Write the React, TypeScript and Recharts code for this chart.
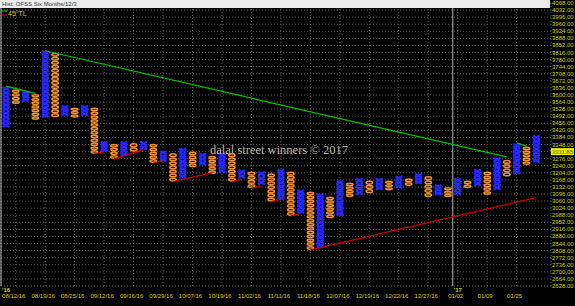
import React from "react";
import {
  ComposedChart,
  Bar,
  Line,
  XAxis,
  YAxis,
  CartesianGrid,
  ReferenceLine,
} from "recharts";

// point & figure columns, even index = X (blue), odd = O (orange)
const BOX = 20;
const highs = [
  3642, 3629, 3617, 3605, 3825, 3815, 3546, 3536, 3546, 3536,
  3363, 3351, 3363, 3356, 3363, 3351, 3315, 3304, 3329, 3312,
  3304, 3290, 3304, 3304, 3219, 3210, 3210, 3202, 3222, 3210,
  3117, 3108, 3097, 3083, 3164, 3154, 3176, 3164, 3176, 3164,
  3187, 3176, 3198, 3187, 3143, 3131, 3176, 3164, 3222, 3210,
  3283, 3270, 3351, 3337, 3395,
];
const lows = [
  3436, 3554, 3566, 3473, 3487, 3487, 3495, 3485, 3495, 3300,
  3312, 3275, 3290, 3311, 3321, 3254, 3261, 3159, 3176, 3232,
  3244, 3198, 3205, 3159, 3176, 3126, 3143, 3058, 3066, 2985,
  2999, 2812, 2826, 2973, 2985, 3080, 3092, 3100, 3117, 3114,
  3126, 3137, 3148, 3080, 3092, 3080, 3092, 3126, 3137, 3092,
  3117, 3185, 3198, 3244, 3256,
];

const dateLabels = [
  "08/12/16", "08/19/16", "08/25/16", "09/12/16", "09/16/16", "09/29/16",
  "10/07/16", "10/19/16", "11/02/16", "11/11/16", "11/18/16", "12/07/16",
  "12/19/16", "12/22/16", "12/27/16", "01/02", "01/09", "01/25",
];
const labelCols = [1, 4, 7, 10, 13, 16, 19, 22, 25, 28, 31, 34, 37, 40, 43, 46, 49, 52];

const priceTicks = [
  2628, 2664, 2700, 2736, 2772, 2808, 2844, 2880, 2916, 2952, 2988,
  3024, 3060, 3096, 3132, 3168, 3204, 3240, 3276, 3312, 3348, 3384,
  3420, 3456, 3492, 3528, 3564, 3600, 3636, 3672, 3708, 3744, 3780,
  3816, 3852, 3888, 3924, 3960, 3996, 4032, 4068,
];
const lastPrice = 3311.65;
const yearCol = 46;

// trend lines: [column, price] end points
const greenLines = [
  [[0, 3645], [3, 3608]],
  [[4, 3825], [51, 3285]],
  [[52, 3356], [53, 3340]],
];
const redLines = [
  [[9, 3300], [10, 3312]],
  [[11, 3275], [14, 3321]],
  [[15, 3254], [16, 3266]],
  [[17, 3159], [21, 3204]],
  [[23, 3159], [24, 3172]],
  [[25, 3126], [26, 3138]],
  [[27, 3058], [28, 3070]],
  [[29, 2985], [30, 2997]],
  [[31, 2812], [54, 3078]],
];

const BLUE = "#2626ff";
const ORANGE = "#f5922c";
const YELLOW = "#d2d200";
const GRID = "#5c5c5c";

const rows = Array.from({ length: highs.length + 1 }, (_, i) => {
  const row: any = { i, range: i < highs.length ? [lows[i], highs[i]] : null };
  greenLines.forEach((seg, k) => {
    seg.forEach(([c, v]) => {
      if (c === i) row["g" + k] = v;
    });
  });
  redLines.forEach((seg, k) => {
    seg.forEach(([c, v]) => {
      if (c === i) row["r" + k] = v;
    });
  });
  return row;
});

function PnfColumn(props: any) {
  const { x, y, width, height, payload } = props;
  if (!payload || !payload.range) return null;
  const [lo, hi] = payload.range;
  const top = Math.min(y, y + height);
  const hgt = Math.abs(height);
  const n = Math.max(1, Math.round((hi - lo) / BOX));
  const h = hgt / n;
  const isX = payload.i % 2 === 0;
  const marks = [];
  for (let k = 0; k < n; k++) {
    const t = top + k * h;
    if (isX) {
      marks.push(
        <path
          key={k}
          d={`M${x + 0.6},${t + 0.2}L${x + width - 0.6},${t + h - 0.2}M${x + width - 0.6},${t + 0.2}L${x + 0.6},${t + h - 0.2}`}
        />
      );
    } else {
      marks.push(
        <ellipse
          key={k}
          cx={x + width / 2}
          cy={t + h / 2}
          rx={width / 2 - 0.8}
          ry={Math.max(0.6, h / 2 - 0.7)}
        />
      );
    }
  }
  return (
    <g stroke={isX ? BLUE : ORANGE} strokeWidth={isX ? 2.3 : 1.5} fill="none">
      {marks}
    </g>
  );
}

function DateTick({ x, payload }: any) {
  const k = labelCols.indexOf(payload.value);
  if (k < 0) return null;
  return (
    <text x={x - 2} y={298} textAnchor="middle" fontSize={6} fill={YELLOW} fontFamily="Liberation Sans">
      {dateLabels[k]}
    </text>
  );
}

function PriceTick({ y, payload }: any) {
  return (
    <text x={552} y={y + 2} fontSize={6} fill={YELLOW} fontFamily="Liberation Sans">
      {payload.value.toFixed(2)}
    </text>
  );
}

function LastPriceLabel({ viewBox }: any) {
  const y = viewBox.y;
  return (
    <g>
      <rect x={551} y={y - 3.5} width={23} height={7} fill="#f0f000" />
      <text x={552} y={y + 2} fontSize={6} fill="#000" fontFamily="Liberation Sans">
        {lastPrice.toFixed(2)}
      </text>
    </g>
  );
}

function YearLabel({ text }: { text: string }) {
  return ({ viewBox }: any) => (
    <text x={viewBox.x + 1} y={viewBox.y + viewBox.height + 6} fontSize={6} fontWeight="bold" fill={YELLOW} fontFamily="Liberation Sans">
      {text}
    </text>
  );
}

export default function App() {
  return (
    <div style={{ position: "absolute", left: 0, top: 0, width: 575, height: 306, background: "#000" }}>
      <ComposedChart
        width={575}
        height={306}
        data={rows}
        margin={{ top: 3, right: 0, bottom: 0, left: 1 }}
        barCategoryGap={1}
      >
        <CartesianGrid stroke={GRID} strokeDasharray="1 2" />
        <XAxis
          dataKey="i"
          type="category"
          ticks={labelCols}
          interval={0}
          tick={<DateTick />}
          tickLine={false}
          axisLine={false}
          height={20}
        />
        <YAxis
          orientation="right"
          type="number"
          domain={[2628, 4068]}
          ticks={priceTicks}
          interval={0}
          allowDataOverflow
          tick={<PriceTick />}
          tickLine={false}
          axisLine={false}
          width={24}
        />
        <ReferenceLine x={0} position="start" stroke="#bbbbbb" label={YearLabel({ text: "'16" })} />
        <ReferenceLine x={yearCol} position="start" stroke="#bbbbbb" label={YearLabel({ text: "'17" })} />
        <Bar dataKey="range" barSize={8} shape={<PnfColumn />} isAnimationActive={false} />
        {greenLines.map((_, k) => (
          <Line
            key={"g" + k}
            dataKey={"g" + k}
            stroke="#00c800"
            strokeWidth={1.2}
            dot={false}
            connectNulls
            isAnimationActive={false}
          />
        ))}
        {redLines.map((_, k) => (
          <Line
            key={"r" + k}
            dataKey={"r" + k}
            stroke="#d40000"
            strokeWidth={1.2}
            dot={false}
            connectNulls
            isAnimationActive={false}
          />
        ))}
        <ReferenceLine y={lastPrice} stroke="none" label={<LastPriceLabel />} />
      </ComposedChart>
      <div
        style={{
          position: "absolute",
          left: 0,
          top: 0,
          width: 550,
          height: 8,
          background: "#ececec",
          color: "#333",
          fontFamily: "Liberation Sans",
          fontSize: 6,
          lineHeight: "8px",
          paddingLeft: 2,
          boxSizing: "border-box",
        }}
      >
        Hist: OFSS Six Months/12/3
      </div>
      <svg style={{ position: "absolute", left: 0, top: 9 }} width={30} height={10}>
        <line x1={2} y1={2} x2={7} y2={2} stroke="#00c800" strokeWidth={1.2} />
        <line x1={2} y1={6} x2={7} y2={6} stroke="#d40000" strokeWidth={1.2} />
        <text x={8} y={7} fontSize={7} fill={YELLOW} fontFamily="Liberation Sans">
          45°TL
        </text>
      </svg>
      <div
        style={{
          position: "absolute",
          left: 210,
          top: 143,
          fontFamily: "Liberation Serif",
          fontSize: 12.5,
          color: "#bdb8ad",
          whiteSpace: "nowrap",
          pointerEvents: "none",
        }}
      >
        dalal street winners © 2017
      </div>
    </div>
  );
}
